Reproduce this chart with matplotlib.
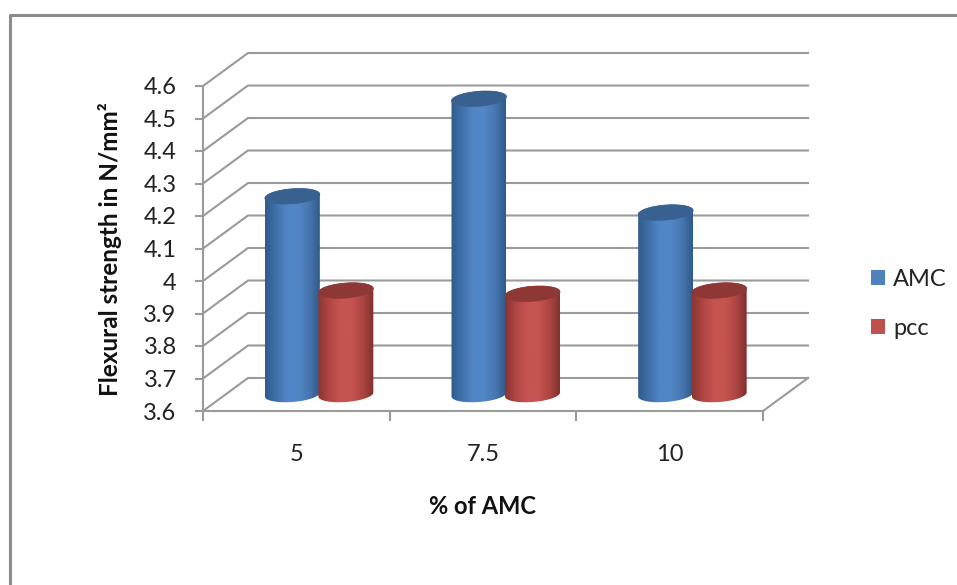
#!/usr/bin/python3

import numpy as np
import matplotlib
matplotlib.use("Agg")
import matplotlib.pyplot as plt
from matplotlib.colors import LinearSegmentedColormap
from matplotlib.lines import Line2D
from matplotlib.patches import Patch, Polygon

plt.rcParams['font.family'] = ['Lato', 'DejaVu Sans']

# values
categories = ["5", "7.5", "10"]
amc_values = [4.21, 4.51, 4.16]
pcc_values = [3.92, 3.91, 3.92]
y_ticks = [3.6, 3.7, 3.8, 3.9, 4, 4.1, 4.2, 4.3, 4.4, 4.5, 4.6]
y_labels = ["3.6", "3.7", "3.8", "3.9", "4", "4.1", "4.2", "4.3", "4.4", "4.5", "4.6"]

GREY = "#9a9a9a"
W, H = 957, 585

# front plane of the fake 3d box, in pixels
LEFT, RIGHT, TOP, BOTTOM = 203, 763, 86, 411
x_px = (RIGHT - LEFT) / 3
y_px = (BOTTOM - TOP) / 1.0

# depth of the box in data units
dx = 45 / x_px
dy = 33 / y_px

fig = plt.figure(figsize=(W / 100, H / 100), dpi=100)
ax = fig.add_axes([LEFT / W, 1 - BOTTOM / H, (RIGHT - LEFT) / W, (BOTTOM - TOP) / H])
ax.patch.set_alpha(0)


def draw_cylinder(cx, value, colors, top_color):
    half_w = 27.5 / x_px
    b = 7.5 / y_px
    k = 2 / y_px
    base = 3.6 + dy / 2
    top = value + dy / 2

    t = np.linspace(np.pi, 2 * np.pi, 40)
    bottom_x = cx + half_w * np.cos(t)
    bottom_y = base + b * np.sin(t) + k * np.cos(t)
    t2 = np.linspace(0, np.pi, 40)
    top_x = cx + half_w * np.cos(t2)
    top_y = top + b * np.sin(t2) + k * np.cos(t2)

    body = np.column_stack([np.r_[bottom_x, top_x], np.r_[bottom_y, top_y]])
    poly = Polygon(body, closed=True, facecolor="none", edgecolor="none")
    ax.add_patch(poly)

    cmap = LinearSegmentedColormap.from_list("side", colors)
    grad = np.linspace(0, 1, 256).reshape(1, -1)
    im = ax.imshow(grad, cmap=cmap, aspect="auto", interpolation="bilinear", zorder=3,
                   extent=[cx - half_w, cx + half_w, base - 2 * b, top + 2 * b])
    im.set_clip_path(poly)

    tt = np.linspace(0, 2 * np.pi, 80)
    cap = np.column_stack([cx + half_w * np.cos(tt),
                           top + b * np.sin(tt) + k * np.cos(tt)])
    ax.add_patch(Polygon(cap, closed=True, facecolor=top_color, edgecolor=top_color,
                         lw=0.5, zorder=3.1))


# gridlines on side and back wall
for v in y_ticks:
    ax.plot([0, dx, 3 + dx], [v, v + dy, v + dy], color=GREY, lw=1.5,
            clip_on=False, zorder=1)
ax.plot([3, 3 + dx], [3.6, 3.6 + dy], color=GREY, lw=1.5, clip_on=False, zorder=1)

blue_side = ["#2f5b8c", "#3f70a8", "#5186c6", "#5186c6", "#4877b0", "#2f5a8a"]
red_side = ["#8a3533", "#b04644", "#c65451", "#c65451", "#ad4543", "#7f302e"]

for i in range(len(categories)):
    center = i + 0.5 + dx / 2
    draw_cylinder(center - 26.5 / x_px, amc_values[i], blue_side, "#38618f")
    draw_cylinder(center + 27 / x_px, pcc_values[i], red_side, "#8e3836")

ax.set_xlim(0, 3)
ax.set_ylim(3.6, 4.6)

ax.set_yticks(y_ticks)
ax.set_yticklabels(y_labels)
ax.set_xticks([0.5, 1.5, 2.5])
ax.set_xticklabels(categories)
ax.set_xticks([0, 1, 2, 3], minor=True)

ax.tick_params(axis="y", length=6, width=1.5, color=GREY, pad=13, labelsize=17,
               labelcolor="#222222")
ax.tick_params(axis="x", which="major", length=0, pad=24, labelsize=17,
               labelcolor="#222222")
ax.tick_params(axis="x", which="minor", length=7.5, width=1.5, color=GREY)

for side in ["top", "right"]:
    ax.spines[side].set_visible(False)
for side in ["left", "bottom"]:
    ax.spines[side].set_color(GREY)
    ax.spines[side].set_linewidth(1.5)

fig.text(110 / W, 1 - 249 / H, "Flexural strength in N/mm²", rotation=90, ha="center",
         va="center", fontsize=17.5, fontweight="bold", color="#111111")
fig.text(483 / W, 1 - 506 / H, "% of AMC", ha="center", va="center",
         fontsize=17, fontweight="bold", color="#111111")

handles = [Patch(facecolor="#4f81bd", label="AMC"), Patch(facecolor="#c0504d", label="pcc")]
fig.legend(handles=handles, loc="center left", bbox_to_anchor=(865 / W, 1 - 304 / H),
           frameon=False, fontsize=17, handlelength=0.6, handleheight=0.6,
           handletextpad=0.35, labelspacing=1.2, labelcolor="#222222",
           borderaxespad=0, borderpad=0.25)

# outer chart frame, only top and left show in the crop
fig.add_artist(Line2D([9.5 / W, 9.5 / W, 1], [0, 1 - 15 / H, 1 - 15 / H], color="#8c8c8c", lw=2.2))

fig.savefig("out.png", dpi=100)
